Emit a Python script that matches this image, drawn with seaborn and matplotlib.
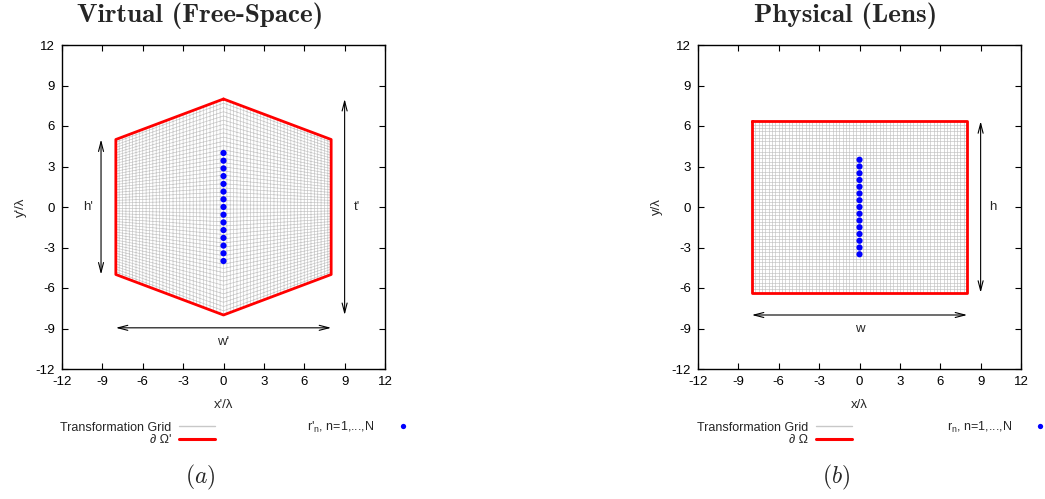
import numpy as np
import matplotlib
matplotlib.use("Agg")
import matplotlib.pyplot as plt
from matplotlib.lines import Line2D
import seaborn as sns

sns.set_style("ticks")
plt.rcParams['font.family'] = ['Liberation Sans', 'DejaVu Sans']
plt.rcParams['mathtext.fontset'] = 'dejavusans'
plt.rcParams['axes.unicode_minus'] = False

# boundary of the virtual (hexagon) and physical (rectangle) domains
hex_x = [0, 8, 8, 0, -8, -8, 0]
hex_y = [8, 5, -5, -8, -5, 5, 8]
rect_x = [-8, 8, 8, -8, -8]
rect_y = [6.35, 6.35, -6.35, -6.35, 6.35]

# source points r_n (n = 1..15)
pts_virt_y = [-4.0, -3.43, -2.86, -2.29, -1.71, -1.14, -0.57, 0.0,
              0.57, 1.14, 1.71, 2.29, 2.86, 3.43, 4.0]
pts_phys_y = [-3.5, -3.0, -2.5, -2.0, -1.5, -1.0, -0.5, 0.0,
              0.5, 1.0, 1.5, 2.0, 2.5, 3.0, 3.5]
pts_x = [0.0] * 15

# transformation grid nodes (physical rectangle)
grid_u = np.linspace(-8, 8, 65)
grid_v = np.linspace(-6.35, 6.35, 52)

ticks = [-12, -9, -6, -3, 0, 3, 6, 9, 12]
grid_col = '#c8c8c8'


def top(x):
    # hexagon half-height as function of x
    return 8 - 3 * np.abs(x) / 8


def grid_lines(mapped):
    xs, ys = [], []
    for u in grid_u:
        v = np.array([grid_v[0], grid_v[-1]])
        y = v * top(u) / 6.35 if mapped else v
        xs += [u, u, np.nan]
        ys += [y[0], y[1], np.nan]
    for v in grid_v:
        u = np.array([-8, 0, 8]) if mapped else np.array([-8, 8])
        y = v * top(u) / 6.35 if mapped else np.full(len(u), v)
        xs += list(u) + [np.nan]
        ys += list(y) + [np.nan]
    return xs, ys


def arrow(ax, p0, p1):
    ax.annotate('', xy=p1, xytext=p0,
                arrowprops=dict(arrowstyle='<->,head_width=0.18,head_length=0.7',
                                lw=0.8, color='black', shrinkA=0, shrinkB=0))


fig = plt.figure(figsize=(10.45, 4.99), dpi=100)
W, H = 1045, 499
axL = fig.add_axes([62 / W, 1 - 369 / H, 323 / W, 324 / H])
axR = fig.add_axes([698 / W, 1 - 369 / H, 323 / W, 324 / H])

for ax, mapped, bx, by, py in [(axL, True, hex_x, hex_y, pts_virt_y),
                               (axR, False, rect_x, rect_y, pts_phys_y)]:
    gx, gy = grid_lines(mapped)
    ax.plot(gx, gy, color=grid_col, lw=0.5, zorder=1)
    sns.lineplot(x=bx, y=by, sort=False, estimator=None, color='red', lw=2, ax=ax, zorder=3)
    sns.scatterplot(x=pts_x, y=py, color='blue', s=20, edgecolor='none', ax=ax, zorder=4)
    ax.set_xlim(-12, 12)
    ax.set_ylim(-12, 12)
    ax.set_xticks(ticks)
    ax.set_yticks(ticks)
    ax.tick_params(direction='in', top=True, right=True, length=4, width=0.8,
                   labelsize=9.5, colors='black', pad=5)
    for s in ax.spines.values():
        s.set_linewidth(1.0)
        s.set_color('black')

axL.set_xlabel("x'/\u03bb", fontsize=9.5, labelpad=8)
axL.set_ylabel("y'/\u03bb", fontsize=9.5, labelpad=6)
axR.set_xlabel("x/\u03bb", fontsize=9.5, labelpad=8)
axR.set_ylabel("y/\u03bb", fontsize=9.5, labelpad=6)

# dimension arrows
arrow(axL, (-9.1, -5), (-9.1, 5))
axL.text(-10.1, 0, "h'", ha='center', va='center', fontsize=9.5)
arrow(axL, (9.0, -8), (9.0, 8))
axL.text(9.9, 0, "t'", ha='center', va='center', fontsize=9.5)
arrow(axL, (-8, -8.95), (8, -8.95))
axL.text(0, -10.0, "w'", ha='center', va='center', fontsize=9.5)

arrow(axR, (9.0, -6.35), (9.0, 6.35))
axR.text(9.9, 0, "h", ha='center', va='center', fontsize=9.5)
arrow(axR, (-8, -8.0), (8, -8.0))
axR.text(0, -9.0, "w", ha='center', va='center', fontsize=9.5)

# legends
for (gx_end, dot_x, bname, rname) in [(215, 409, "\u2202 \u03a9'", "r'$_\\mathregular{n}$, n=1,...,N"),
                                      (852, 1046, "\u2202 \u03a9", "r$_\\mathregular{n}$, n=1,...,N")]:
    h1 = [Line2D([], [], color=grid_col, lw=1.0), Line2D([], [], color='red', lw=2.2)]
    fig.legend(h1, ["Transformation Grid", bname], loc='center right',
               bbox_to_anchor=(gx_end / W, 1 - 434 / H), frameon=False, markerfirst=False,
               borderpad=0, borderaxespad=0, handlelength=2.9, handletextpad=0.6,
               labelspacing=0.05, fontsize=9)
    h2 = [Line2D([], [], color='blue', marker='o', ls='', markersize=3.8, markeredgewidth=0)]
    fig.legend(h2, [rname], loc='center right',
               bbox_to_anchor=(dot_x / W, 1 - 427 / H), frameon=False, markerfirst=False,
               borderpad=0, borderaxespad=0, handlelength=1.0, handletextpad=1.74,
               fontsize=9)

# titles and panel labels
fig.text(200 / W, 1 - 16 / H, "Virtual (Free-Space)", family='cmb10',
         fontsize=19.5, ha='center', va='center')
fig.text(846 / W, 1 - 16 / H, "Physical (Lens)", family='cmb10',
         fontsize=19.5, ha='center', va='center')
fig.text(200 / W, 1 - 477 / H, r"$(a)$", math_fontfamily='cm', fontsize=17,
         ha='center', va='center')
fig.text(836 / W, 1 - 477 / H, r"$(b)$", math_fontfamily='cm', fontsize=17,
         ha='center', va='center')

fig.savefig("out.png", dpi=100)
